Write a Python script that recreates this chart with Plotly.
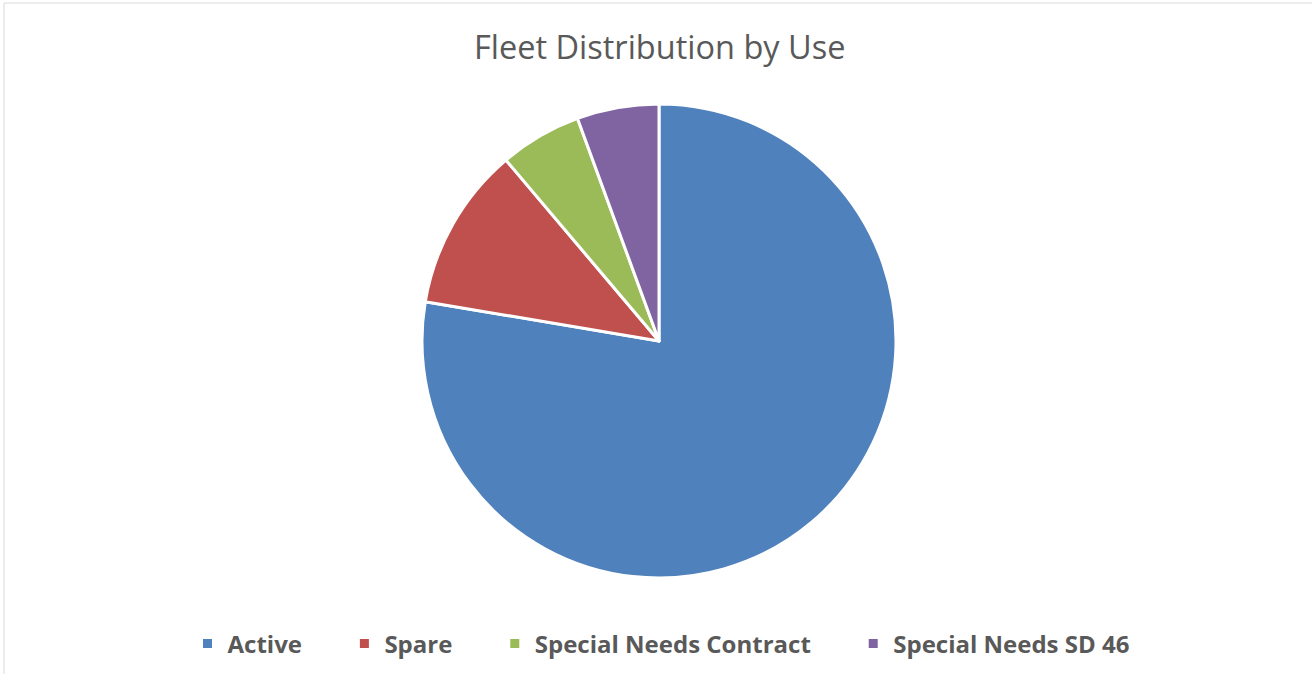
import plotly.graph_objects as go

categories = ["Active", "Spare", "Special Needs Contract", "Special Needs SD 46"]
values = [139, 20, 10, 10]
colors = ["#4F81BD", "#C0504D", "#9BBB59", "#8064A2"]
title_text = "Fleet Distribution by Use"

# legend labels padded so legend entries are spaced like the original
pad = "\u00a0" * 6
legend_labels = [c + pad for c in categories]

W, H = 1312, 674
ml, mt = 4, 3
pw, ph = W - ml, H - mt
cx, cy, r = 659, 341, 237

fig = go.Figure(go.Pie(
    labels=legend_labels,
    values=values,
    sort=False,
    direction="clockwise",
    rotation=0,
    textinfo="none",
    hovertemplate="%{customdata}: %{value} (%{percent})<extra></extra>",
    customdata=categories,
    marker=dict(colors=colors, line=dict(color="white", width=3)),
    domain=dict(x=[(cx - r - ml) / pw, (cx + r - ml) / pw],
                y=[1 - (cy + r - mt) / ph, 1 - (cy - r - mt) / ph]),
))

fig.update_layout(
    width=W, height=H,
    margin=dict(l=ml, r=0, t=mt, b=0),
    paper_bgcolor="white",
    plot_bgcolor="white",
    showlegend=True,
    legend=dict(orientation="h", x=(680 - ml) / pw, xanchor="center", y=(H - 644) / ph,
                yanchor="middle",
                font=dict(family="Open Sans", size=24, color="#595959", weight="bold"),
                itemwidth=30, tracegroupgap=0),
    shapes=[dict(type="rect", xref="paper", yref="paper",
                 x0=0, x1=1.05, y0=-0.05, y1=1,
                 line=dict(color="#D9D9D9", width=1), fillcolor="rgba(0,0,0,0)")],
)
fig.add_annotation(text=title_text, xref="paper", yref="paper",
                   x=(659 - ml) / pw, y=1 - (47 - mt) / ph, xanchor="center", yanchor="middle",
                   showarrow=False,
                   font=dict(family="Open Sans", size=32.5, color="#595959"))

fig.write_html("out.html")
